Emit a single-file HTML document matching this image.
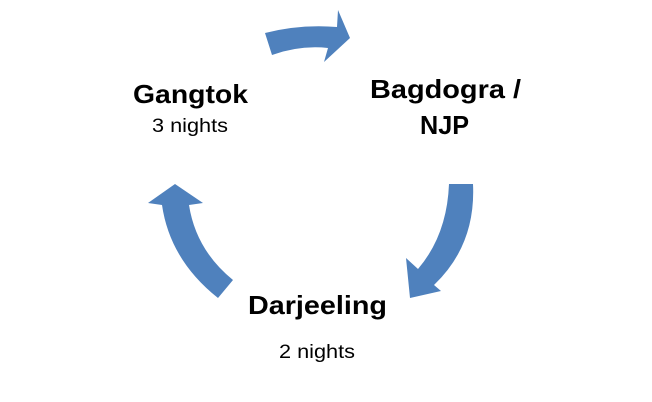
<!DOCTYPE html>
<html><head><style>html,body{margin:0;padding:0;background:#fff;}svg{display:block}</style></head>
<body>
<svg width="652" height="402" viewBox="0 0 652 402" xmlns="http://www.w3.org/2000/svg">
<g fill="#4f81bd">
<path d="M265,33 Q300,24 337,27 L338,10 L350,38 L324,62 L328,48 Q300,45 272,55 Z"/>
<path d="M449,184 L473,184 Q476,245 434,285 L441,291 L410,298 L406,258 L418,269 Q447,235 449,184 Z"/>
<path d="M175,184 L203,203 L189,205 Q196,250 233,280 L218,298 Q170,260 162,205 L148,203 Z"/>
</g>
<g font-family="'Liberation Sans',sans-serif" fill="#000">
<text x="133" y="103" font-size="26" font-weight="bold" textLength="115" lengthAdjust="spacingAndGlyphs">Gangtok</text>
<text x="152" y="132" font-size="19" textLength="76" lengthAdjust="spacingAndGlyphs">3 nights</text>
<text x="370" y="98" font-size="26" font-weight="bold" textLength="151" lengthAdjust="spacingAndGlyphs">Bagdogra /</text>
<text x="420" y="134" font-size="26" font-weight="bold" textLength="49" lengthAdjust="spacingAndGlyphs">NJP</text>
<text x="248" y="314" font-size="26" font-weight="bold" textLength="139" lengthAdjust="spacingAndGlyphs">Darjeeling</text>
<text x="279" y="358" font-size="19" textLength="76" lengthAdjust="spacingAndGlyphs">2 nights</text>
</g>
</svg>
</body></html>
